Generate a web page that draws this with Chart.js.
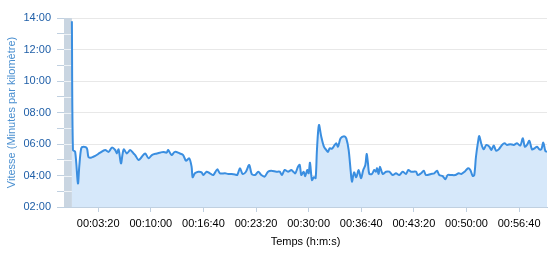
<!DOCTYPE html>
<html>
<head>
<meta charset="utf-8">
<script src="https://cdn.jsdelivr.net/npm/chart.js@4/dist/chart.umd.min.js"></script>
<style>
  body { margin: 0; background: #fff; }
  canvas { display: block; }
</style>
</head>
<body>
<canvas id="allure" width="555" height="254"></canvas>
<script>
// temps en secondes depuis le depart
var temps = [0, 8, 25, 46, 56, 71, 89, 114, 127, 152, 177, 215, 253, 279, 304, 329, 342, 355, 373, 386,
  395, 418, 443, 469, 481, 507, 532, 557, 583, 608, 646, 669, 694, 720, 732, 758, 783, 821, 846, 867,
  892, 910, 918, 935, 961, 986, 999, 1024, 1049, 1075, 1105, 1126, 1164, 1189, 1215, 1240, 1257, 1278, 1298, 1323,
  1348, 1367, 1392, 1417, 1440, 1465, 1491, 1516, 1554, 1580, 1597, 1618, 1643, 1668, 1681, 1698, 1719, 1732, 1744, 1762,
  1774, 1789, 1800, 1810, 1825, 1840, 1853, 1863, 1878, 1896, 1916, 1934, 1947, 1960, 1977, 1998, 2010, 2023, 2043, 2069,
  2086, 2104, 2120, 2129, 2145, 2162, 2180, 2198, 2215, 2231, 2241, 2251, 2261, 2281, 2299, 2312, 2320, 2332, 2342, 2363,
  2388, 2413, 2439, 2464, 2489, 2515, 2540, 2558, 2578, 2616, 2629, 2654, 2675, 2692, 2730, 2755, 2776, 2793, 2819, 2839,
  2857, 2882, 2915, 2941, 2961, 2986, 3012, 3029, 3047, 3059, 3072, 3088, 3097, 3113, 3131, 3151, 3174, 3189, 3207, 3225,
  3245, 3270, 3290, 3308, 3333, 3359, 3384, 3409, 3428, 3443, 3460, 3478, 3498, 3518, 3536, 3554, 3569, 3584, 3599, 3612];

// allure en minutes par km
var allure = [13.8, 5.62, 5.5, 3.5, 4.56, 5.73, 5.83, 5.73, 5.15, 5.15, 5.24, 5.45, 5.62, 5.5, 5.77, 5.62, 5.4, 5.66, 4.77, 5.4,
  5.66, 5.4, 5.62, 5.4, 5.3, 4.98, 5.19, 5.4, 5.09, 5.3, 5.4, 5.45, 5.5, 5.45, 5.62, 5.3, 5.5, 5.4, 5.3, 4.94,
  5.09, 4.56, 3.89, 4.14, 4.24, 4.2, 4.03, 4.24, 4.14, 4.03, 4.39, 4.14, 4.14, 4.1, 4.1, 4.07, 4.03, 4.46, 4.1, 4.24,
  4.67, 4.1, 4.03, 4.24, 4.03, 3.93, 4.24, 4.3, 4.24, 4.24, 4.03, 4.35, 4.24, 4.35, 4.26, 4.14, 4.56, 4.67, 4.03, 4.24,
  3.96, 4.35, 4.14, 4.81, 3.71, 3.89, 3.83, 5.62, 7.2, 6.46, 5.83, 5.62, 5.5, 5.73, 5.7, 5.94, 6.04, 5.83, 6.36, 6.5,
  6.36, 5.62, 4.24, 3.6, 4.2, 3.89, 4.35, 3.82, 4.35, 4.67, 5.37, 4.77, 4.1, 4.1, 4.35, 4.24, 4.46, 4.1, 4.56, 4.1,
  4.24, 4.24, 4.03, 4.14, 4.03, 4.24, 4.1, 4.35, 4.24, 4.24, 4.03, 4.14, 4.3, 4.03, 4.1, 4.14, 4.3, 4.03, 3.96, 3.76,
  4.03, 4.03, 4.03, 4.14, 4.1, 4.24, 4.46, 4.35, 3.97, 4.03, 5.19, 6.15, 6.5, 6.0, 5.66, 5.94, 5.83, 5.62, 5.9, 5.57,
  5.66, 5.94, 6.04, 5.94, 5.99, 5.94, 6.04, 5.9, 6.36, 5.83, 5.94, 6.2, 5.66, 5.73, 5.83, 5.66, 5.66, 6.09, 5.57, 5.5];

var graduationsTemps = [200, 600, 1000, 1400, 1800, 2200, 2600, 3000, 3400];

function deuxChiffres(n){
  return (n < 10 ? '0' : '') + n;
}
function formatTemps(s){
  var h = Math.floor(s / 3600);
  var m = Math.floor((s % 3600) / 60);
  return deuxChiffres(h) + ':' + deuxChiffres(m) + ':' + deuxChiffres(s % 60);
}

var points = temps.map(function(t, i){ return {x: t, y: allure[i]}; });

/**
* Bande grise avant le depart (de min jusqu'a 0).
**/
var bandeDepart = {
  id: 'bandeDepart',
  beforeDatasetsDraw(chart){
    var ctx = chart.ctx;
    var area = chart.chartArea;
    var x0 = chart.scales.x.getPixelForValue(0);
    ctx.save();
    ctx.fillStyle = '#c9d5e1';
    ctx.fillRect(area.left, area.top, x0 - area.left, area.bottom - area.top);
    ctx.strokeStyle = '#eef2f6';
    ctx.lineWidth = 1;
    for (var v = 3; v < 14; v++) {
      var y = Math.round(chart.scales.y.getPixelForValue(v)) + 0.5;
      ctx.beginPath();
      ctx.moveTo(area.left, y);
      ctx.lineTo(x0, y);
      ctx.stroke();
    }
    ctx.restore();
  }
};

new Chart(document.getElementById('allure'), {
  type: 'line',
  data: {
    datasets: [{
      data: points,
      borderColor: '#3a8ee0',
      borderWidth: 2,
      backgroundColor: '#d6e8fa',
      fill: 'start',
      pointRadius: 0,
      tension: 0.3
    }]
  },
  options: {
    responsive: false,
    animation: false,
    devicePixelRatio: 1,
    layout: { padding: { left: 0, right: 8, top: 18, bottom: 0 } },
    plugins: { legend: { display: false }, tooltip: { enabled: false } },
    scales: {
      x: {
        type: 'linear',
        min: -60,
        max: 3612,
        afterBuildTicks(scale){
          scale.ticks = graduationsTemps.map(function(v){ return {value: v}; });
        },
        afterFit(scale){ scale.height = 47; },
        grid: { drawOnChartArea: false, tickLength: 5, tickColor: '#c0d0e0' },
        border: { color: '#c0d0e0' },
        ticks: {
          autoSkip: false,
          maxRotation: 0,
          padding: 5,
          color: '#000',
          font: { family: 'Liberation Sans', size: 11 },
          callback: function(v){ return formatTemps(v); }
        },
        title: {
          display: true,
          text: 'Temps (h:m:s)',
          color: '#000',
          font: { family: 'Liberation Sans', size: 11 },
          padding: { top: 0, bottom: 5 }
        }
      },
      y: {
        min: 2,
        max: 14,
        afterFit(scale){ scale.width = 64; },
        grid: {
          color: function(c){ return c.tick && c.tick.value % 2 === 0 ? '#e8e8e8' : 'rgba(0,0,0,0)'; },
          tickColor: '#c0d0e0',
          tickLength: 7
        },
        border: { display: false },
        ticks: {
          stepSize: 1,
          autoSkip: false,
          padding: 6,
          color: '#1f5fa8',
          font: { family: 'Liberation Sans', size: 11 },
          callback: function(v){ return v % 2 === 0 ? deuxChiffres(v) + ':00' : ''; }
        },
        title: {
          display: true,
          text: 'Vitesse (Minutes par kilomètre)',
          color: '#4a8fd0',
          font: { family: 'Liberation Sans', size: 11 },
          padding: { top: 5, bottom: 0 }
        }
      }
    }
  },
  plugins: [bandeDepart]
});
</script>
</body>
</html>
